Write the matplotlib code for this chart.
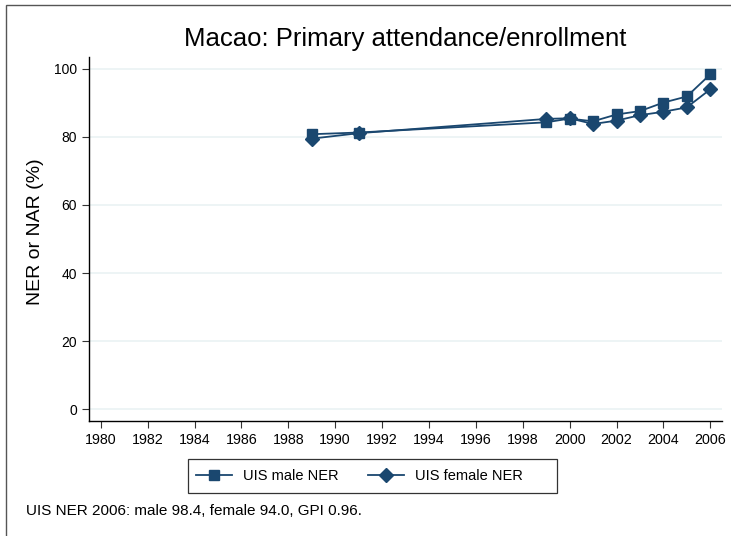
import matplotlib
matplotlib.use("Agg")
import matplotlib.pyplot as plt
from matplotlib.patches import Rectangle

years = [1989, 1991, 1999, 2000, 2001, 2002, 2003, 2004, 2005, 2006]
male_ner = [80.8, 81.3, 84.3, 85.4, 84.6, 86.6, 87.6, 90.1, 91.9, 98.4]
female_ner = [79.5, 81.1, 85.3, 85.5, 83.8, 84.8, 86.4, 87.4, 88.7, 94.0]
xticks = list(range(1980, 2007, 2))
yticks = [0, 20, 40, 60, 80, 100]

title = "Macao: Primary attendance/enrollment"
ylabel = "NER or NAR (%)"
note = "UIS NER 2006: male 98.4, female 94.0, GPI 0.96."

plt.rcParams['font.family'] = ['Liberation Sans', 'DejaVu Sans']
color = '#1a476f'
W, H = 731, 536

fig = plt.figure(figsize=(W / 100, H / 100), dpi=100)
# outer graph border (only top and left edges visible in the crop)
fig.patches.append(Rectangle((6 / W, -0.1), 1.2, (H - 5) / H + 0.1, transform=fig.transFigure,
                             fill=False, edgecolor='#555555', linewidth=1.0))
ax = fig.add_axes([89 / W, (H - 421) / H, (722 - 89) / W, (421 - 57) / H])

ax.plot(years, male_ner, color=color, marker='s', markersize=7.5, linewidth=1.3, label='UIS male NER')
ax.plot(years, female_ner, color=color, marker='D', markersize=7, linewidth=1.3, label='UIS female NER')

ax.set_xlim(1979.5, 2006.5)
ax.set_ylim(-3.5, 103.5)
ax.set_xticks(xticks)
ax.set_yticks(yticks)
ax.tick_params(axis='both', direction='out', length=5, width=0.8, color='#333333')
ax.tick_params(axis='x', labelsize=10.3)
ax.tick_params(axis='y', labelsize=10)
ax.grid(axis='y', color='#eaf2f3', linewidth=1.2)
ax.set_axisbelow(True)
for s in ['top', 'right']:
    ax.spines[s].set_visible(False)
for s in ['left', 'bottom']:
    ax.spines[s].set_linewidth(1.0)

fig.text(405 / W, 1 - 39 / H, title, ha='center', va='center', fontsize=18.5)
fig.text(36 / W, (H - 232) / H, ylabel, ha='center', va='center', rotation=90, fontsize=14)

# legend frame
fig.patches.append(Rectangle((188 / W, (H - 493) / H), (557 - 188) / W, (493 - 459) / H,
                             transform=fig.transFigure, fill=False, edgecolor='#333333', linewidth=0.9))
fig.legend(loc='center left', bbox_to_anchor=(196 / W, 1 - 476 / H), ncol=2, fontsize=10.5,
           frameon=False, borderpad=0, borderaxespad=0, handlelength=2.47,
           handletextpad=0.75, columnspacing=1.99)

fig.text(26 / W, 1 - 511 / H, note, ha='left', va='center', fontsize=11)

fig.savefig('out.png', dpi=100)
